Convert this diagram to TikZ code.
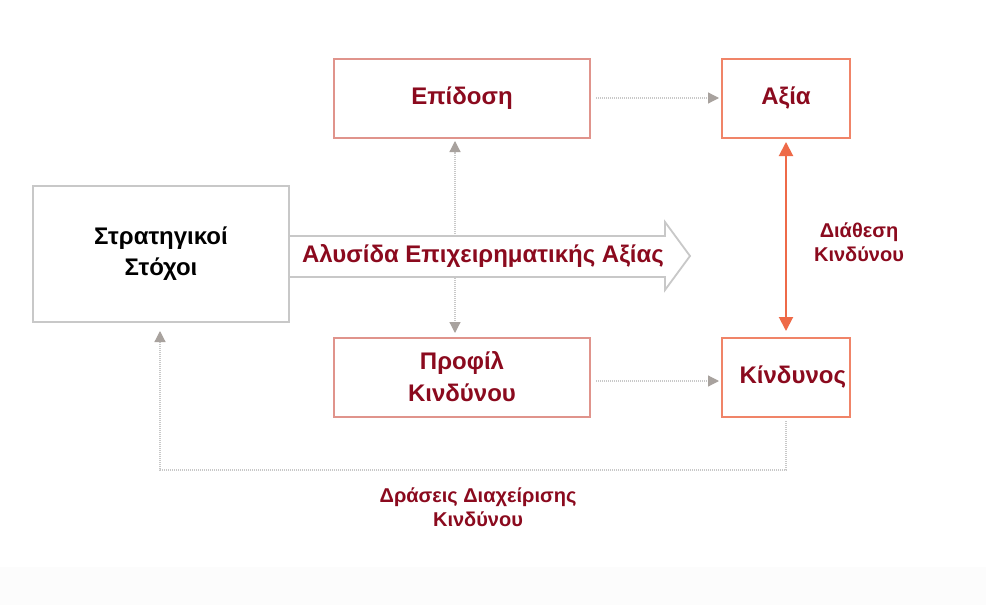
\documentclass[tikz,border=0pt]{standalone}
\usepackage{fontspec}
\setmainfont{Liberation Sans}
\usetikzlibrary{arrows.meta,positioning}
\definecolor{dred}{HTML}{8B0A1E}
\definecolor{pinkb}{HTML}{E0948C}
\definecolor{orab}{HTML}{F08468}
\definecolor{oarr}{HTML}{EE6A48}
\definecolor{gline}{HTML}{C8C8C8}
\definecolor{gtip}{HTML}{A8A29E}
\tikzset{
  stratbox/.style={draw=gline, line width=2pt, fill=white, minimum width=256pt, minimum height=136pt, inner sep=0pt, align=center, font=\bfseries\fontsize{24}{31}\selectfont, text=black},
  midbox/.style={draw=pinkb, line width=2pt, fill=white, minimum width=256pt, minimum height=79pt, inner sep=0pt, align=center, font=\bfseries\fontsize{24}{32}\selectfont, text=dred},
  rbox/.style={draw=orab, line width=2pt, fill=white, minimum width=128pt, minimum height=79pt, inner sep=0pt, align=center, font=\bfseries\fontsize{24}{32}\selectfont, text=dred},
  dotcon/.style={draw=gline, line width=1.2pt, dash pattern=on 1pt off 1pt, -{Triangle[length=11pt,width=11pt,fill=gtip,color=gtip]}},
  smalllbl/.style={align=center, font=\bfseries\fontsize{20}{24}\selectfont, text=dred},
}
\begin{document}
\begin{tikzpicture}[x=1pt,y=-1pt]
\useasboundingbox (0,0) rectangle (986,605);
\fill[white] (0,0) rectangle (986,605);
\fill[black!1] (0,567) rectangle (986,605);
% vertical dotted connector (behind the big arrow)
\coordinate (vmid) at (455,256);
\coordinate (vtop) at (455,141);
\coordinate (vbot) at (455,333);
\draw[dotcon] (vmid) -- (vtop);
\draw[dotcon] (vmid) -- (vbot);
% big hollow arrow
\draw[gline, line width=1.8pt, fill=white] (289,236) -- (665,236) -- (665,222) -- (690,256) -- (665,290) -- (665,277) -- (289,277) -- cycle;
\node[font=\bfseries\fontsize{24}{28}\selectfont, text=dred] (chain) at (483,256) {Αλυσίδα Επιχειρηματικής Αξίας};
% boxes
\node[stratbox] (strat) at (161,254) {Στρατηγικοί\\Στόχοι};
\node[midbox] (perf) at (462,98) {Επίδοση};
\node[midbox] (prof) at (462,377) {Προφίλ\\Κινδύνου};
\node[rbox] (val) at (786,98) {Αξία};
\node[rbox, text width=120pt, align=right] (risk) at (786,377) {Κίνδυνος};
% dotted connectors
\coordinate (p1) at (596,98);
\coordinate (p2) at (719,98);
\draw[dotcon] (p1) -- (p2);
\coordinate (r1) at (596,381);
\coordinate (r2) at (719,381);
\draw[dotcon] (r1) -- (r2);
\coordinate (fb0) at (786,421);
\coordinate (fb1) at (786,470);
\coordinate (fb2) at (160,470);
\coordinate (fb3) at (160,331);
\draw[dotcon] (fb0) -- (fb1) -- (fb2) -- (fb3);
% risk appetite
\coordinate (a1) at (786,142);
\coordinate (a2) at (786,331);
\draw[oarr, line width=2pt, {Triangle[length=14pt,width=14pt]}-{Triangle[length=14pt,width=14pt]}] (a1) -- (a2);
\node[smalllbl] (appetite) at (859,242) {Διάθεση\\Κινδύνου};
\node[smalllbl] (actions) at (478,507) {Δράσεις Διαχείρισης\\Κινδύνου};
\end{tikzpicture}
\end{document}
